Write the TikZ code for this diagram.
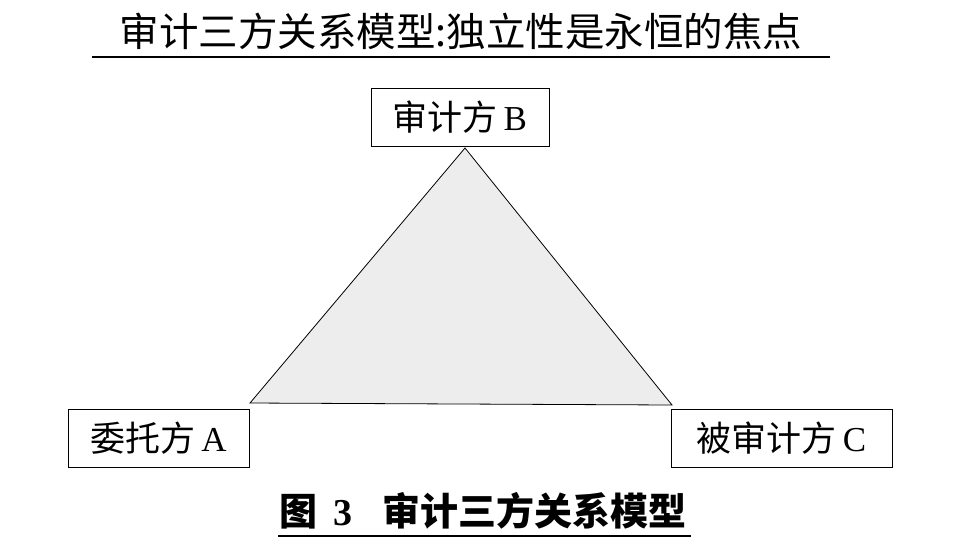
\documentclass[tikz,border=0pt]{standalone}
\usepackage{fontspec}
\setmainfont{Liberation Serif}
\newfontfamily\cjk{Noto Sans CJK SC}
\tikzset{
  party/.style={draw, line width=1pt, inner sep=0pt, minimum height=58pt,
    font=\fontsize{35}{38}\selectfont},
  side/.style={line width=0.8pt}
}
\begin{document}
\begin{tikzpicture}[x=1pt, y=-1pt]
      \useasboundingbox (0,0) rectangle (966,558);
      % title and rule
      \node (title) at (461,31) {\fontsize{39.5}{42}\selectfont\cjk 审计三方关系模型:独立性是永恒的焦点};
      \draw[line width=1.2pt] (92,57) -- (830,57);
      % parties
      \node[party, minimum width=178pt] (audB) at (460,117) {{\cjk 审计方}\,B};
      \node[party, minimum width=181pt] (cliA) at (158.5,438) {{\cjk 委托方}\,A};
      \node[party, minimum width=221pt] (entC) at (781.5,438) {{\cjk 被审计方}\,C};
      % triangle
      \coordinate (apex) at (465,148);
      \coordinate (baseA) at (250,403);
      \coordinate (baseC) at (672,405);
      \filldraw[side, fill=black!7] (apex) -- (baseA) -- (baseC) -- cycle;
      % caption
      \node (caption) at (483,511) {\fontsize{38}{40}\selectfont\bfseries{\cjk 图}\hspace{16pt}3\hspace{30pt}{\cjk 审计三方关系模型}};
      \draw[line width=1.8pt] (278,536) -- (691,536);
    \end{tikzpicture}
\end{document}
